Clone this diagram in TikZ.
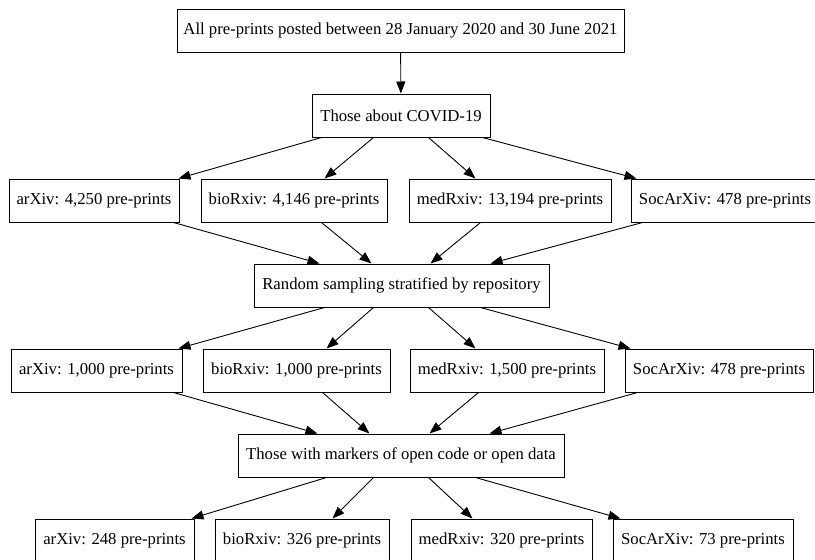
\documentclass[tikz,border=0pt]{standalone}
\usepackage{fontspec}
\setmainfont{Liberation Serif}
\usetikzlibrary{arrows.meta,calc}
\begin{document}
\begin{tikzpicture}[x=1pt,y=-1pt,
  box/.style={draw, line width=1pt, minimum height=43pt, inner sep=0pt,
    font=\fontsize{16.7}{20}\selectfont},
  edge/.style={line width=0.9pt, -{Triangle[length=12pt,width=9pt]}}]
\useasboundingbox (0,0) rectangle (815,560);
\node[box, minimum width=447pt] (all) at (400.5,30.5) {All pre-prints posted between 28 January 2020 and 30 June 2021};
\node[box, minimum width=178pt] (cov) at (401,115.5) {Those about COVID-19};
\node[box, minimum width=170pt] (a2) at (94,200.5) {arXiv: 4,250 pre-prints};
\node[box, minimum width=186pt] (b2) at (294,200.5) {bioRxiv: 4,146 pre-prints};
\node[box, minimum width=202pt] (m2) at (510,200.5) {medRxiv: 13,194 pre-prints};
\node[box, minimum width=188pt] (s2) at (725,200.5) {SocArXiv: 478 pre-prints};
\node[box, minimum width=295pt] (rnd) at (401.5,285.5) {Random sampling stratified by repository};
\node[box, minimum width=171pt] (a3) at (96.5,370.5) {arXiv: 1,000 pre-prints};
\node[box, minimum width=187pt] (b3) at (296.5,370.5) {bioRxiv: 1,000 pre-prints};
\node[box, minimum width=194pt] (m3) at (507,370.5) {medRxiv: 1,500 pre-prints};
\node[box, minimum width=188pt] (s3) at (719,370.5) {SocArXiv: 478 pre-prints};
\node[box, minimum width=326pt] (mk) at (401,455.5) {Those with markers of open code or open data};
\node[box, minimum width=159pt] (a4) at (114.5,540.5) {arXiv: 248 pre-prints};
\node[box, minimum width=174pt] (b4) at (302,540.5) {bioRxiv: 326 pre-prints};
\node[box, minimum width=181pt] (m4) at (501.5,540.5) {medRxiv: 320 pre-prints};
\node[box, minimum width=180pt] (s4) at (703,540.5) {SocArXiv: 73 pre-prints};

\draw[edge] (all) -- (cov);

\draw[edge] ($(cov.south west)+(10,0)$) -- ($(a2.north west)+(170,0)$);
\draw[edge] ($(cov.south west)+(62,0)$) -- ($(b2.north west)+(124,0)$);
\draw[edge] ($(cov.south west)+(117,0)$) -- ($(m2.north west)+(67,0)$);
\draw[edge] ($(cov.south west)+(171,0)$) -- ($(s2.north west)+(6,0)$);

\draw[edge] ($(a2.south west)+(165,0)$) -- ($(rnd.north west)+(66,0)$);
\draw[edge] ($(b2.south west)+(121,0)$) -- ($(rnd.north west)+(118,0)$);
\draw[edge] ($(m2.south west)+(72,0)$) -- ($(rnd.north west)+(177,0)$);
\draw[edge] ($(s2.south west)+(12,0)$) -- ($(rnd.north west)+(237,0)$);

\draw[edge] ($(rnd.south west)+(71,0)$) -- ($(a3.north west)+(168,0)$);
\draw[edge] ($(rnd.south west)+(120,0)$) -- ($(b3.north west)+(124,0)$);
\draw[edge] ($(rnd.south west)+(175,0)$) -- ($(m3.north west)+(66,0)$);
\draw[edge] ($(rnd.south west)+(227,0)$) -- ($(s3.north west)+(6,0)$);

\draw[edge] ($(a3.south west)+(163,0)$) -- ($(mk.north west)+(80,0)$);
\draw[edge] ($(b3.south west)+(120,0)$) -- ($(mk.north west)+(132,0)$);
\draw[edge] ($(m3.south west)+(69,0)$) -- ($(mk.north west)+(192,0)$);
\draw[edge] ($(s3.south west)+(13,0)$) -- ($(mk.north west)+(252,0)$);

\draw[edge] ($(mk.south west)+(89,0)$) -- ($(a4.north west)+(157,0)$);
\draw[edge] ($(mk.south west)+(136,0)$) -- ($(b4.north west)+(118,0)$);
\draw[edge] ($(mk.south west)+(191,0)$) -- ($(m4.north west)+(62,0)$);
\draw[edge] ($(mk.south west)+(238,0)$) -- ($(s4.north west)+(8,0)$);
\end{tikzpicture}
\end{document}
